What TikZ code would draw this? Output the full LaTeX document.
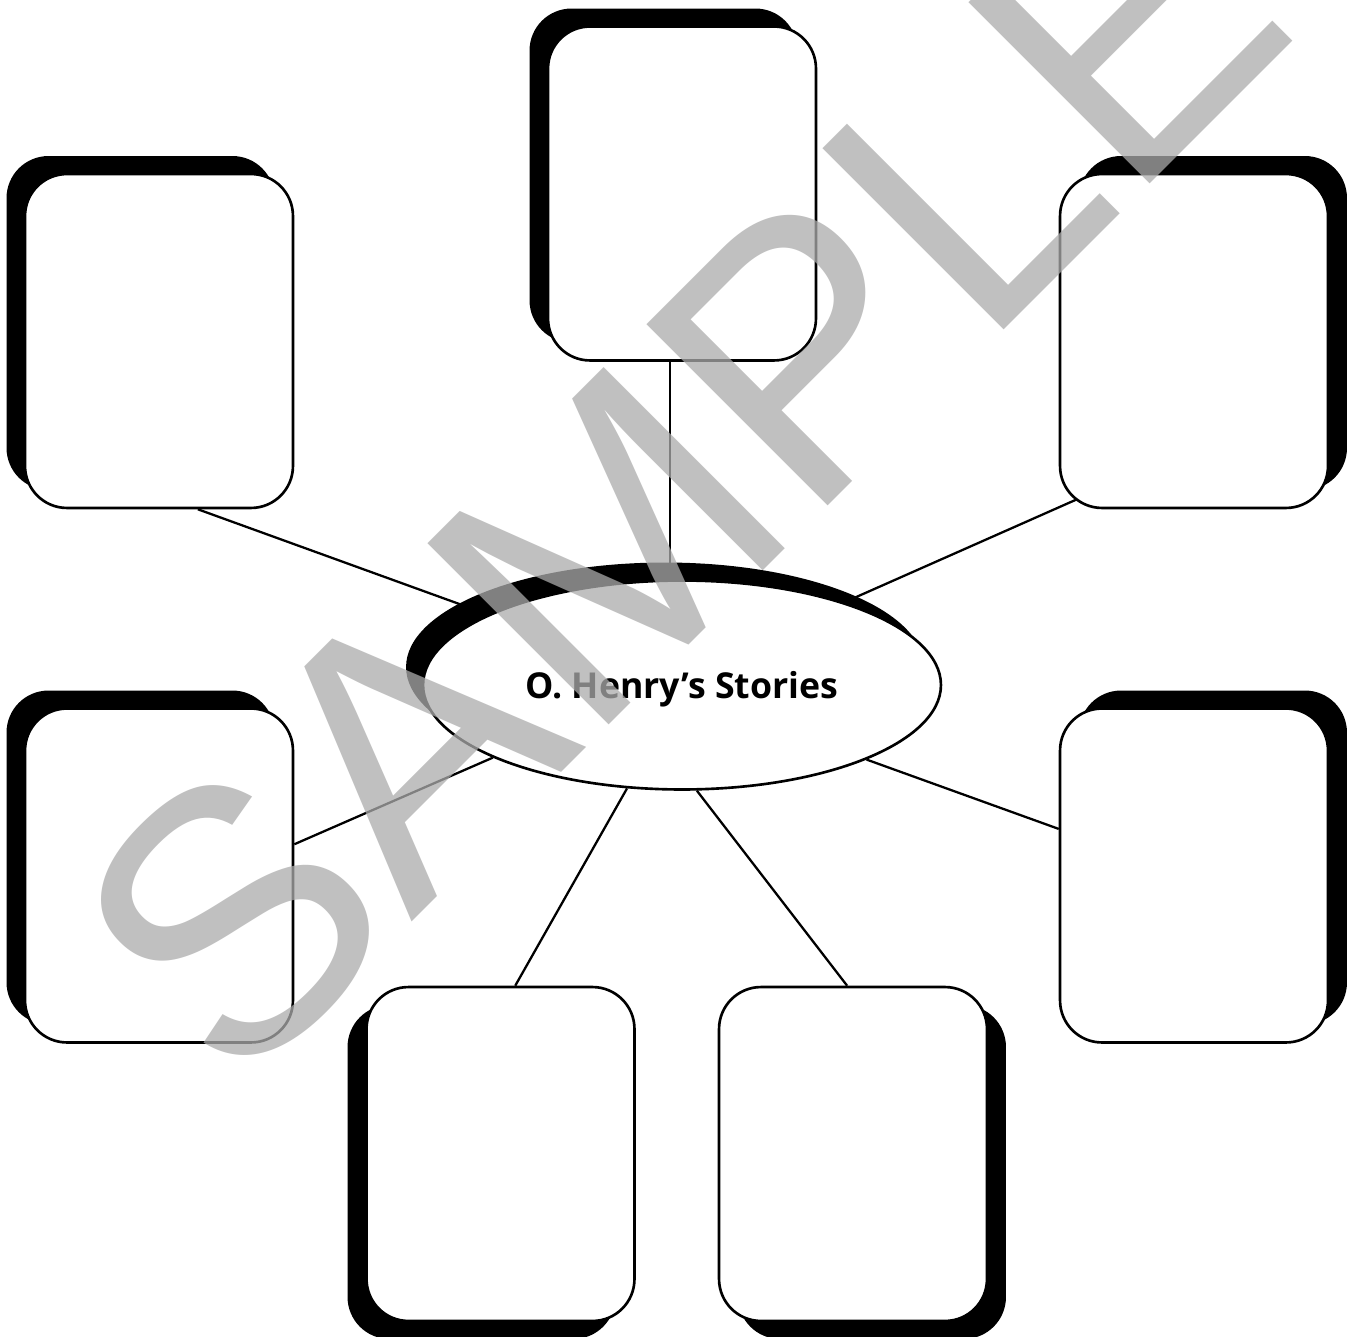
\documentclass[tikz,border=0pt]{standalone}
\usepackage{fontspec}
\usetikzlibrary{shapes.geometric,shadows,backgrounds}
\newfontfamily\hubfont{Open Sans}
\newfontfamily\markfont{Liberation Sans}
\definecolor{Ink}{HTML}{000000}
\definecolor{Mark}{HTML}{ABABAB}
\tikzset{
 card/.style={draw=Ink, fill=white, line width=1.5pt, rounded corners=0.84cm, minimum width=5.36cm, minimum height=6.68cm, inner sep=0pt},
 nwcard/.style={card, drop shadow={shadow xshift=-0.37cm, shadow yshift=0.36cm, fill=Ink, opacity=1}},
 necard/.style={card, drop shadow={shadow xshift=0.38cm, shadow yshift=0.36cm, fill=Ink, opacity=1}},
 swcard/.style={card, drop shadow={shadow xshift=-0.38cm, shadow yshift=-0.36cm, fill=Ink, opacity=1}},
 secard/.style={card, drop shadow={shadow xshift=0.38cm, shadow yshift=-0.36cm, fill=Ink, opacity=1}},
 hub/.style={ellipse, draw=Ink, fill=white, line width=1.5pt, minimum width=10.36cm, minimum height=4.18cm, inner sep=0pt, text depth=0pt, font=\hubfont\bfseries\fontsize{20.3}{24}\selectfont, drop shadow={shadow xshift=-0.34cm, shadow yshift=0.36cm, fill=Ink, opacity=1}},
 spoke/.style={draw=Ink, line width=1.3pt},
 watermark/.style={rotate=45, anchor=base west, inner sep=0pt, text=Mark, text opacity=0.75, font=\markfont\fontsize{212}{212}\selectfont}
}
\begin{document}
\begin{tikzpicture}[x=0.02cm, y=-0.02cm]
\useasboundingbox (0,0) rectangle (1354,1337);
\node[hub] (hub) at (682,685) {O.\ Henry’s Stories};
\node[nwcard] (tl) at (159,341) {};
\node[nwcard] (top) at (682,193.5) {};
\node[necard] (tr) at (1194,341) {};
\node[nwcard] (ml) at (159,875.5) {};
\node[necard] (mr) at (1194,875.5) {};
\node[swcard] (bl) at (500.5,1154) {};
\node[secard] (br) at (853,1154) {};
% spokes sit under the cards and the hub
\begin{scope}[on background layer]
 \fill[white] (0,0) rectangle (1354,1337);
 \draw[spoke] (tl.283.8) -- (hub.160.1);
 \draw[spoke] (top.266.9) -- (top.266.9 |- hub.center);
 \draw[spoke] (tr.341.1) -- (hub.27.3);
 \draw[spoke] (ml.13.2) -- (hub.201);
 \draw[spoke] (mr.161.6) -- (hub.338.1);
 \draw[spoke] (bl.85.7) -- (hub.242.45);
 \draw[spoke] (br.92.4) -- (hub.278.7);
\end{scope}
\node[watermark] (mark) at (235.5,1098.5) {SAMPLE};
\end{tikzpicture}
\end{document}
